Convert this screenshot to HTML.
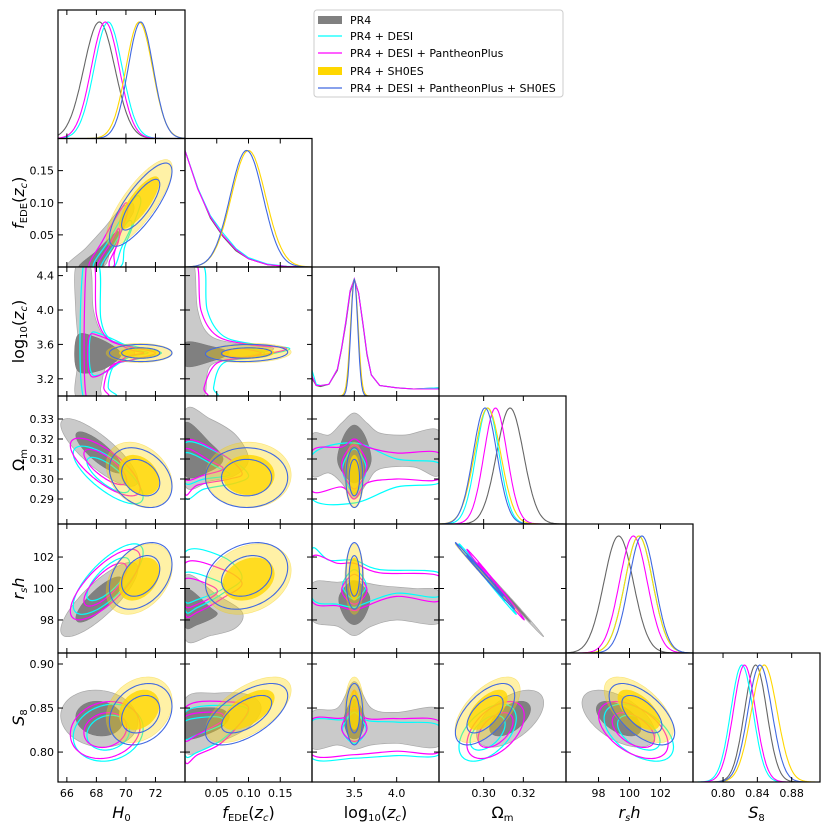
<!DOCTYPE html>
<html><head><meta charset="utf-8">
<style>
html,body{margin:0;padding:0;background:#fff;}
svg{display:block;font-family:"DejaVu Sans","Liberation Sans",sans-serif;}
</style></head>
<body>
<svg id="chart" width="831" height="832" viewBox="0 0 831 832" xmlns="http://www.w3.org/2000/svg">
<g id="panels"></g>
<g id="legend">
  <rect x="314" y="10" width="249" height="87" rx="3" fill="#fff" stroke="#ccc" stroke-width="1"/>
  <g><rect x="318" y="16" width="24" height="8" fill="#808080"/><text x="350" y="24" font-size="11">PR4</text></g>
  <g><line x1="318" y1="36" x2="342" y2="36" stroke="#00ffff" stroke-width="1.2"/><text x="350" y="40" font-size="11">PR4 + DESI</text></g>
  <g><line x1="318" y1="53" x2="342" y2="53" stroke="#ff00ff" stroke-width="1.2"/><text x="350" y="57" font-size="11">PR4 + DESI + PantheonPlus</text></g>
  <g><rect x="318" y="67" width="24" height="8" fill="#ffd700"/><text x="350" y="75" font-size="11">PR4 + SH0ES</text></g>
  <g><line x1="318" y1="88" x2="342" y2="88" stroke="#4169e1" stroke-width="1.2"/><text x="350" y="92" font-size="11">PR4 + DESI + PantheonPlus + SH0ES</text></g>
</g>
</svg>
<script>
// ---- data ----
const paramNames = ['H0','fEDE','log10zc','Omegam','rsh','S8'];
const xRanges = [[65.4,74],[0,0.2],[3.0,4.5],[0.2775,0.3415],[95.9,104.1],[0.765,0.913]];
const yRanges = [[65.4,74],[0,0.2],[3.0,4.5],[0.2775,0.3415],[95.9,104.1],[0.766,0.9125]];
const xTicks = [[66,68,70,72],[0.05,0.10,0.15],[3.5,4.0],[0.30,0.32],[98,100,102],[0.80,0.84,0.88]];
const xTickLabels = [['66','68','70','72'],['0.05','0.10','0.15'],['3.5','4.0'],['0.30','0.32'],['98','100','102'],['0.80','0.84','0.88']];
const yTicks = [[],[0.05,0.10,0.15],[3.2,3.6,4.0,4.4],[0.29,0.30,0.31,0.32,0.33],[98,100,102],[0.80,0.85,0.90]];
const yTickLabels = [[],['0.05','0.10','0.15'],['3.2','3.6','4.0','4.4'],['0.29','0.30','0.31','0.32','0.33'],['98','100','102'],['0.80','0.85','0.90']];
const datasets = ['pr4','desi','pantheon','sh0es','all'];
const meanPR4 = [68.2,null,null,0.3133,99.3,0.838];
const sigPR4 = [1.05,null,null,0.0068,0.95,0.013];
const meanDESI = [68.8,null,null,0.302,100.6,0.822];
const sigDESI = [0.95,null,null,0.0058,0.9,0.013];
const meanPP = [68.6,null,null,0.306,100.25,0.825];
const sigPP = [0.95,null,null,0.0058,0.9,0.013];
const meanSH = [70.9,0.100,3.50,0.302,100.6,0.848];
const sigSH = [0.9,0.027,0.045,0.0066,0.9,0.015];
const meanAll = [71.0,0.097,3.50,0.3007,100.8,0.843];
const sigAll = [0.85,0.026,0.04,0.006,0.85,0.014];
const corr01=[0,0,0,0.8,0.8], corr02=[0,0,0,0,0], corr12=[0,0,0,0.1,0.1];
const corr03=[-0.82,-0.75,-0.75,-0.3,-0.3], corr04=[0.82,0.75,0.75,0.35,0.35], corr05=[-0.1,0.15,0.15,0.25,0.25];
const corr13=[0,0,0,0,0], corr14=[0,0,0,0.25,0.25], corr15=[0,0,0,0.6,0.6];
const corr23=[0,0,0,0,0], corr24=[0,0,0,0,0], corr25=[0,0,0,0,0];
const corr34=[-0.998,-0.998,-0.998,-0.998,-0.998], corr35=[0.55,0.5,0.5,0.6,0.6], corr45=[-0.55,-0.5,-0.5,-0.6,-0.6];
const fGrid=[0,0.02,0.04,0.06,0.08,0.1,0.13,0.16,0.2];
const fPR4=[1.0,0.68,0.42,0.26,0.14,0.07,0.02,0.005,0];
const fDESI=[1.0,0.68,0.44,0.29,0.16,0.08,0.025,0.006,0];
const fPP=[1.0,0.67,0.43,0.27,0.15,0.07,0.02,0.005,0];
const lzGrid=[3.0,3.05,3.1,3.2,3.3,3.35,3.4,3.45,3.5,3.55,3.6,3.65,3.7,3.8,4.0,4.2,4.5];
const lzPR4=[0.15,0.09,0.08,0.1,0.22,0.4,0.62,0.88,1.0,0.88,0.62,0.35,0.18,0.09,0.07,0.06,0.07];
const lzDESI=[0.22,0.1,0.09,0.1,0.23,0.41,0.64,0.9,1.0,0.88,0.63,0.36,0.18,0.09,0.07,0.06,0.07];
const lzPP=[0.17,0.09,0.09,0.1,0.23,0.41,0.64,0.9,1.0,0.88,0.63,0.36,0.18,0.09,0.07,0.06,0.06];
const poly01_pr4_2=[66.0,0,67.3,0.03,68.5,0.06,69.6,0.09,70.4,0.10,70.5,0.085,69.8,0.06,69.0,0.03,68.4,0];
const poly01_pr4_1=[66.8,0,68.0,0.025,69.1,0.05,69.5,0.055,69.3,0.035,68.6,0.01,68.3,0];
const poly01_desi_2=[67.8,0,68.8,0.04,69.8,0.08,70.7,0.11,71.0,0.1,70.4,0.06,69.9,0.03,69.6,0];
const poly01_desi_1=[68.3,0,69.2,0.035,70.1,0.07,70.4,0.065,69.7,0.03,69.2,0];
const poly01_pp_2=[67.5,0,68.4,0.04,69.4,0.08,70.0,0.1,70.1,0.085,69.6,0.05,69.2,0.02,69.1,0];
const poly01_pp_1=[68.0,0,68.9,0.035,69.5,0.06,69.5,0.04,68.9,0.01,68.8,0];
const poly02_pr4_2=[66.6,4.5,67.6,4.5,67.8,4.0,68.5,3.7,69.8,3.6,70.6,3.5,69.8,3.42,68.7,3.35,68.3,3.1,68.2,3.0,66.6,3.0,66.8,3.5,66.6,4.0];
const poly02_pr4_1=[66.7,3.7,68.0,3.68,69.4,3.55,69.6,3.45,68.3,3.3,66.7,3.3];
const poly02_desi_2=[67.1,3.0,67.1,4.5,68.2,4.5,68.3,3.9,69.0,3.65,70.5,3.58,72.4,3.5,70.5,3.42,69.2,3.35,68.8,3.1,69.3,3.0];
const poly02_desi_1=[67.6,3.7,68.3,3.72,70.5,3.55,71.5,3.5,70.2,3.45,68.3,3.25,67.6,3.3];
const poly02_pp_2=[67.3,3.0,67.3,4.5,67.9,4.5,68.0,3.95,68.8,3.66,70.4,3.57,72.0,3.5,70.4,3.42,69.0,3.35,68.5,3.1,68.8,3.0];
const poly02_pp_1=[67.5,3.68,68.2,3.7,70.3,3.54,71.2,3.5,70.0,3.45,68.2,3.24,67.5,3.28];
const poly12_pr4_2=[0,4.5,0.015,4.5,0.02,4.0,0.04,3.7,0.09,3.6,0.14,3.55,0.09,3.45,0.04,3.35,0.03,3.0,0,3.0];
const poly12_pr4_1=[0,3.62,0.04,3.58,0.07,3.5,0.04,3.4,0,3.35];
const poly12_desi_2=[0.03,4.5,0.035,4.0,0.06,3.7,0.11,3.6,0.165,3.55,0.11,3.45,0.06,3.38,0.045,3.1,0.05,3.0,0,3.0,0,4.5];
const poly12_desi_1=[0.06,3.5,0.09,3.56,0.125,3.5,0.09,3.44];
const poly12_pp_2=[0.02,4.5,0.025,4.0,0.05,3.7,0.1,3.6,0.16,3.55,0.1,3.45,0.05,3.38,0.03,3.1,0.035,3.0,0,3.0,0,4.5];
const poly12_pp_1=[0.06,3.49,0.085,3.55,0.12,3.5,0.09,3.45];
const poly13_pr4_2=[0,0.334,0.04,0.33,0.08,0.322,0.1,0.31,0.08,0.302,0.04,0.299,0,0.297];
const poly13_pr4_1=[0,0.328,0.04,0.318,0.06,0.31,0.04,0.304,0,0.302];
const poly13_desi_2=[0,0.318,0.07,0.31,0.1,0.302,0.08,0.298,0.03,0.295,0,0.291];
const poly13_desi_1=[0,0.313,0.05,0.306,0.07,0.302,0.03,0.3,0,0.298];
const poly13_pp_2=[0,0.319,0.06,0.312,0.09,0.303,0.07,0.3,0.02,0.297,0,0.293];
const poly13_pp_1=[0,0.315,0.04,0.309,0.06,0.305,0.03,0.302,0,0.3];
const poly14_pr4_2=[0,100.8,0.05,99.6,0.09,98.5,0.08,97.5,0.04,97.0,0,96.8];
const poly14_pr4_1=[0,100.0,0.04,98.8,0.05,98.3,0.02,97.7,0,97.6];
const poly14_desi_2=[0,102.3,0.06,102.0,0.09,100.7,0.06,99.7,0.02,98.8,0,98.7];
const poly14_desi_1=[0,101.0,0.05,100.5,0.06,100.0,0.02,99.3,0,99.2];
const poly14_pp_2=[0,101.6,0.06,101.2,0.09,100.3,0.06,99.4,0.02,98.5,0,98.4];
const poly14_pp_1=[0,100.6,0.04,100.2,0.05,99.7,0.02,99.0,0,98.9];
const poly15_pr4_2=[0,0.86,0.05,0.867,0.1,0.865,0.12,0.85,0.1,0.828,0.05,0.81,0,0.8];
const poly15_pr4_1=[0,0.845,0.05,0.85,0.07,0.84,0.05,0.825,0,0.815];
const poly15_desi_2=[0,0.845,0.07,0.853,0.1,0.845,0.06,0.815,0.02,0.8,0,0.797];
const poly15_desi_1=[0,0.835,0.05,0.84,0.06,0.832,0.02,0.82,0,0.815];
const poly15_pp_2=[0,0.85,0.07,0.857,0.1,0.848,0.06,0.812,0.02,0.797,0,0.79];
const poly15_pp_1=[0,0.84,0.05,0.845,0.06,0.836,0.02,0.82,0,0.813];
const poly23_pr4_2=[3.0,0.322,3.2,0.322,3.35,0.328,3.5,0.333,3.65,0.328,3.8,0.323,4.1,0.322,4.5,0.324,4.5,0.302,4.2,0.306,3.8,0.305,3.65,0.298,3.5,0.29,3.35,0.298,3.2,0.303,3.0,0.302];
const poly23_pr4_1=[3.3,0.31,3.38,0.322,3.5,0.327,3.62,0.322,3.7,0.31,3.62,0.302,3.5,0.298,3.38,0.302];
const poly23_desi_2=[3.0,0.312,3.5,0.318,4.0,0.31,4.5,0.308,4.5,0.298,4.0,0.296,3.5,0.288,3.0,0.29];
const poly23_desi_1=[3.36,0.305,3.5,0.315,3.64,0.305,3.5,0.293];
const poly23_pp_2=[3.0,0.314,3.35,0.316,3.5,0.32,3.65,0.316,4.0,0.313,4.5,0.313,4.5,0.3,4.0,0.3,3.65,0.298,3.5,0.29,3.35,0.296,3.0,0.294];
const poly23_pp_1=[3.35,0.307,3.5,0.317,3.65,0.307,3.5,0.295];
const poly24_pr4_2=[3.0,100.3,3.3,100.4,3.5,100.5,3.8,100.2,4.2,100.0,4.5,99.8,4.5,97.8,4.0,98.0,3.7,97.6,3.5,97.0,3.3,97.6,3.0,98.0];
const poly24_pr4_1=[3.32,99.5,3.5,100.5,3.68,99.5,3.62,98.2,3.5,97.7,3.38,98.2];
const poly24_desi_2=[3.0,102.5,3.2,101.8,3.5,101.8,3.8,101.2,4.5,101.0,4.5,99.5,4.0,99.7,3.6,99.0,3.5,98.8,3.3,99.0,3.0,99.4];
const poly24_desi_1=[3.36,100.2,3.5,101.2,3.64,100.2,3.5,99.3];
const poly24_pp_2=[3.0,102.0,3.3,101.6,3.5,101.6,3.8,101.0,4.5,100.8,4.5,99.2,4.0,99.5,3.6,98.8,3.5,98.6,3.3,98.9,3.0,99.2];
const poly24_pp_1=[3.35,99.9,3.5,100.9,3.65,99.9,3.5,99.0];
const poly25_pr4_2=[3.0,0.845,3.3,0.85,3.5,0.88,3.7,0.85,4.0,0.845,4.5,0.849,4.5,0.807,4.0,0.81,3.7,0.808,3.5,0.803,3.3,0.808,3.0,0.805];
const poly25_pr4_1=[3.38,0.84,3.5,0.86,3.62,0.84,3.58,0.82,3.5,0.815,3.42,0.82];
const poly25_desi_2=[3.0,0.835,3.4,0.838,3.5,0.865,3.6,0.838,4.0,0.834,4.5,0.83,4.5,0.797,4.0,0.796,3.5,0.793,3.0,0.793];
const poly25_desi_1=[3.36,0.825,3.5,0.845,3.64,0.825,3.5,0.81];
const poly25_pp_2=[3.0,0.837,3.4,0.84,3.5,0.87,3.6,0.84,4.0,0.838,4.5,0.835,4.5,0.8,4.0,0.801,3.5,0.797,3.0,0.797];
const poly25_pp_1=[3.35,0.827,3.5,0.85,3.65,0.827,3.5,0.812];

// ---- geometry ----
const colX=[58,185,312,439,566,693,820];
const rowY=[10,138.5,267,396,524,653,782];
const NS='http://www.w3.org/2000/svg';
const means=[meanPR4,meanDESI,meanPP,meanSH,meanAll];
const sigs=[sigPR4,sigDESI,sigPP,sigSH,sigAll];
const corrs={'0-1':corr01,'0-2':corr02,'1-2':corr12,'0-3':corr03,'0-4':corr04,'0-5':corr05,'1-3':corr13,'1-4':corr14,'1-5':corr15,'2-3':corr23,'2-4':corr24,'2-5':corr25,'3-4':corr34,'3-5':corr35,'4-5':corr45};
const polys={};
[['0-1',[poly01_pr4_2,poly01_pr4_1],[poly01_desi_2,poly01_desi_1],[poly01_pp_2,poly01_pp_1]],
 ['0-2',[poly02_pr4_2,poly02_pr4_1],[poly02_desi_2,poly02_desi_1],[poly02_pp_2,poly02_pp_1]],
 ['1-2',[poly12_pr4_2,poly12_pr4_1],[poly12_desi_2,poly12_desi_1],[poly12_pp_2,poly12_pp_1]],
 ['1-3',[poly13_pr4_2,poly13_pr4_1],[poly13_desi_2,poly13_desi_1],[poly13_pp_2,poly13_pp_1]],
 ['1-4',[poly14_pr4_2,poly14_pr4_1],[poly14_desi_2,poly14_desi_1],[poly14_pp_2,poly14_pp_1]],
 ['1-5',[poly15_pr4_2,poly15_pr4_1],[poly15_desi_2,poly15_desi_1],[poly15_pp_2,poly15_pp_1]],
 ['2-3',[poly23_pr4_2,poly23_pr4_1],[poly23_desi_2,poly23_desi_1],[poly23_pp_2,poly23_pp_1]],
 ['2-4',[poly24_pr4_2,poly24_pr4_1],[poly24_desi_2,poly24_desi_1],[poly24_pp_2,poly24_pp_1]],
 ['2-5',[poly25_pr4_2,poly25_pr4_1],[poly25_desi_2,poly25_desi_1],[poly25_pp_2,poly25_pp_1]]
].forEach(e=>{polys[e[0]]=[e[1],e[2],e[3]];});
const samp1D={1:[fGrid,[fPR4,fDESI,fPP]],2:[lzGrid,[lzPR4,lzDESI,lzPP]]};
const lineCol=['#666666','#00ffff','#ff00ff','#ffd700','#4169e1'];

function sx(p,v){const r=xRanges[p];return colX[p]+(v-r[0])/(r[1]-r[0])*(colX[p+1]-colX[p]);}
function sy(p,row,v){const r=yRanges[p];return rowY[row+1]-(v-r[0])/(r[1]-r[0])*(rowY[row+1]-rowY[row]);}
function el(tag,attrs,parent){const e=document.createElementNS(NS,tag);for(const k in attrs)e.setAttribute(k,attrs[k]);parent.appendChild(e);return e;}
function smoothClosed(pts){let d='';const n=pts.length;for(let i=0;i<n;i++){const p0=pts[(i-1+n)%n],p1=pts[i],p2=pts[(i+1)%n],p3=pts[(i+2)%n];
 if(i===0)d+='M'+p1[0].toFixed(1)+','+p1[1].toFixed(1);
 const c1=[p1[0]+(p2[0]-p0[0])/6,p1[1]+(p2[1]-p0[1])/6],c2=[p2[0]-(p3[0]-p1[0])/6,p2[1]-(p3[1]-p1[1])/6];
 d+='C'+c1[0].toFixed(1)+','+c1[1].toFixed(1)+' '+c2[0].toFixed(1)+','+c2[1].toFixed(1)+' '+p2[0].toFixed(1)+','+p2[1].toFixed(1);}
 return d+'Z';}
function ellipsePts(i,j,row,d,k){const mx=means[d][i],my=means[d][j],s1=sigs[d][i],s2=sigs[d][j],r=corrs[i+'-'+j][d];const pts=[];
 for(let t=0;t<64;t++){const a=t/64*2*Math.PI;const x=mx+k*s1*Math.cos(a);const y=my+k*s2*(r*Math.cos(a)+Math.sqrt(1-r*r)*Math.sin(a));pts.push([sx(i,x),sy(j,row,y)]);}return pts;}
function polyPts(arr,i,j,row){const pts=[];for(let q=0;q<arr.length;q+=2)pts.push([sx(i,arr[q]),sy(j,row,arr[q+1])]);return pts;}
function style(d,lvl){
 if(d===0)return lvl===2?{fill:'#cacaca',stroke:'#a8a8a8','stroke-width':0.7}:{fill:'#808080',stroke:'#777','stroke-width':0.5};
 if(d===1)return {fill:'none',stroke:'#00ffff','stroke-width':1.2};
 if(d===2)return {fill:'none',stroke:'#ff00ff','stroke-width':1.2};
 if(d===3)return lvl===2?{fill:'rgba(255,215,0,0.35)',stroke:'rgba(240,200,0,0.4)','stroke-width':0.6}:{fill:'rgba(255,215,0,0.8)',stroke:'none'};
 return {fill:'none',stroke:'#4169e1','stroke-width':1.1};}

const root=document.getElementById('panels');
let clipId=0;
for(let row=0;row<6;row++){for(let col=0;col<=row;col++){
 const g=el('g',{},root);
 
 
 const x0=colX[col],x1=colX[col+1],y0=rowY[row],y1=rowY[row+1];
 const cid='clip'+(clipId++);
 const cp=el('clipPath',{id:cid},g);el('rect',{x:x0,y:y0,width:x1-x0,height:y1-y0},cp);
 const inner=el('g',{'clip-path':'url(#'+cid+')'},g);
 if(col===row){
  const p=col;const top=y0+12;const sc=(y1-top);
  for(let d=0;d<5;d++){let pts=[];
   if(d<3&&samp1D[p]){const gx=samp1D[p][0],gy=samp1D[p][1][d];for(let q=0;q<gx.length;q++)pts.push([sx(p,gx[q]),y1-gy[q]*sc]);}
   else if(means[d][p]!==null){const m=means[d][p],s=sigs[d][p],r=xRanges[p];for(let q=0;q<=120;q++){const v=r[0]+(r[1]-r[0])*q/120;pts.push([sx(p,v),y1-Math.exp(-0.5*((v-m)/s)**2)*sc]);}}
   if(!pts.length)continue;
   const path=el('path',{d:'M'+pts.map(a=>a[0].toFixed(1)+','+a[1].toFixed(1)).join('L'),fill:'none',stroke:lineCol[d],'stroke-width':1.1},inner);
   
   }
 } else {
  const i=col,j=row,key=i+'-'+j;
  for(let d=0;d<5;d++){for(const lvl of [2,1]){
   let pts;
   if(d<3&&polys[key]){pts=polyPts(polys[key][d][lvl===2?0:1],i,j,row);}
   else{if(means[d][i]===null||means[d][j]===null)continue;pts=ellipsePts(i,j,row,d,lvl===2?2.49:1.52);}
   const path=el('path',Object.assign({d:smoothClosed(pts)},style(d,lvl)),inner);
   
   }}
 }
 const fr=el('rect',{x:x0,y:y0,width:x1-x0,height:y1-y0,fill:'none',stroke:'#000','stroke-width':1.2},g);
 
 
 xTicks[col].forEach((t,k)=>{const X=sx(col,t);
  el('line',{x1:X,y1:y1,x2:X,y2:y1-5,stroke:'#000','stroke-width':1},g);
  el('line',{x1:X,y1:y0,x2:X,y2:y0+5,stroke:'#000','stroke-width':1},g);
  if(row===5){const tx=el('text',{x:X,y:y1+15,'font-size':11,'text-anchor':'middle'},g);tx.textContent=xTickLabels[col][k];
   
   }});
 if(col!==row){yTicks[row].forEach((t,k)=>{const Y=sy(row,row,t);
  el('line',{x1:x0,y1:Y,x2:x0+5,y2:Y,stroke:'#000','stroke-width':1},g);
  el('line',{x1:x1,y1:Y,x2:x1-5,y2:Y,stroke:'#000','stroke-width':1},g);
  if(col===0){const tx=el('text',{x:x0-4,y:Y+4,'font-size':11,'text-anchor':'end'},g);tx.textContent=yTickLabels[row][k];
   
   }});}
}}
const labHTML=[
 '<tspan font-style="italic">H</tspan><tspan font-size="10" dy="3">0</tspan>',
 '<tspan font-style="italic">f</tspan><tspan font-size="10" dy="3">EDE</tspan><tspan dy="-3">(</tspan><tspan font-style="italic">z</tspan><tspan font-size="10" font-style="italic" dy="3">c</tspan><tspan dy="-3">)</tspan>',
 '<tspan>log</tspan><tspan font-size="10" dy="3">10</tspan><tspan dy="-3">(</tspan><tspan font-style="italic">z</tspan><tspan font-size="10" font-style="italic" dy="3">c</tspan><tspan dy="-3">)</tspan>',
 '<tspan>Ω</tspan><tspan font-size="10" dy="3">m</tspan>',
 '<tspan font-style="italic">r</tspan><tspan font-size="10" font-style="italic" dy="3">s</tspan><tspan font-style="italic" dy="-3">h</tspan>',
 '<tspan font-style="italic">S</tspan><tspan font-size="10" dy="3">8</tspan>'];
const svg=document.getElementById('chart');
for(let p=0;p<6;p++){
 const t=el('text',{x:(colX[p]+colX[p+1])/2,y:818,'font-size':16,'text-anchor':'middle'},svg);t.innerHTML=labHTML[p];
 
 
 if(p>0){const cy=(rowY[p]+rowY[p+1])/2;
  const t2=el('text',{x:0,y:0,'font-size':16,'text-anchor':'middle',transform:'translate(24,'+cy+') rotate(-90)'},svg);t2.innerHTML=labHTML[p];
  
  }
}
svg.appendChild(document.getElementById('legend'));
</script>
</body></html>
